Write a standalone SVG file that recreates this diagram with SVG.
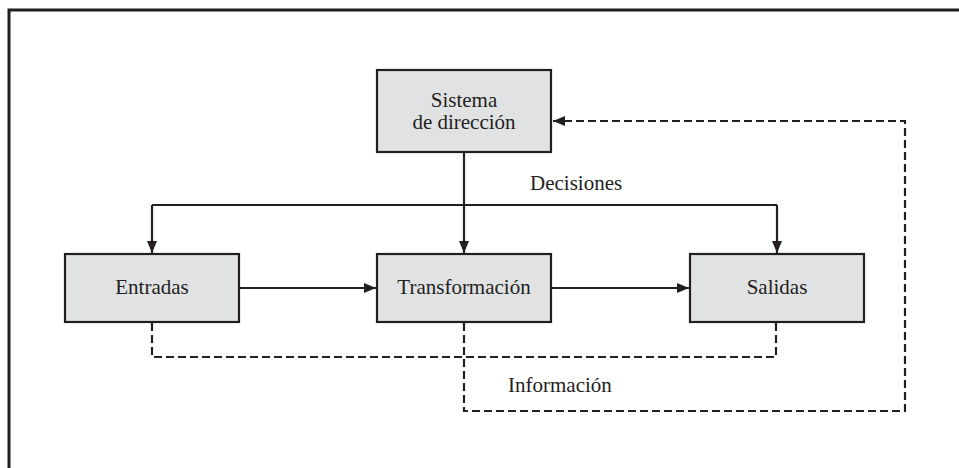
<svg xmlns="http://www.w3.org/2000/svg" width="959" height="468" viewBox="0 0 959 468">
  <style>
    .box { fill: #e1e2e4; stroke: #231f20; stroke-width: 2.2; }
    .lbl { font-family: "Liberation Serif", "Times New Roman", serif; font-size: 21px; fill: #231f20; text-anchor: middle; }
    .note { font-family: "Liberation Serif", "Times New Roman", serif; font-size: 21px; fill: #231f20; }
    .solid { fill: none; stroke: #231f20; stroke-width: 2.2; }
    .dash { fill: none; stroke: #231f20; stroke-width: 2.2; stroke-dasharray: 8 4; }
    .frame { fill: none; stroke: #231f20; stroke-width: 3; }
  </style>
  <defs>
    <marker id="arrow" viewBox="0 0 12 10" refX="12" refY="5" markerWidth="12" markerHeight="10" markerUnits="userSpaceOnUse" orient="auto">
      <path d="M0,0 L12,5 L0,10 Z" fill="#231f20"/>
    </marker>
  </defs>

  <!-- outer frame -->
  <path class="frame" d="M9,468 V10 H959"/>

  <!-- connectors -->
  <g id="connectors">
    <!-- decisions from the management system -->
    <path class="solid" d="M464,152 V253" marker-end="url(#arrow)"/>
    <path class="solid" d="M152,205 H777"/>
    <path class="solid" d="M152,205 V253" marker-end="url(#arrow)"/>
    <path class="solid" d="M777,205 V253" marker-end="url(#arrow)"/>
    <!-- process flow -->
    <path class="solid" d="M239,288 H376" marker-end="url(#arrow)"/>
    <path class="solid" d="M551,288 H689" marker-end="url(#arrow)"/>
    <!-- information feedback -->
    <path class="dash" d="M152,323 V357 H776 V323"/>
    <path class="dash" d="M464,323 V411 H905 V121 H553" marker-end="url(#arrow)"/>
    <text class="note" x="530" y="190">Decisiones</text>
    <text class="note" x="508" y="392">Información</text>
  </g>

  <g id="sistema">
    <rect class="box" x="377" y="70" width="174" height="82"/>
    <text class="lbl" x="464" y="107">Sistema</text>
    <text class="lbl" x="464" y="129">de dirección</text>
  </g>
  <g id="entradas">
    <rect class="box" x="65" y="254" width="174" height="68"/>
    <text class="lbl" x="152" y="294">Entradas</text>
  </g>
  <g id="transformacion">
    <rect class="box" x="377" y="254" width="174" height="68"/>
    <text class="lbl" x="464" y="294">Transformación</text>
  </g>
  <g id="salidas">
    <rect class="box" x="690" y="254" width="174" height="68"/>
    <text class="lbl" x="777" y="294">Salidas</text>
  </g>
</svg>
